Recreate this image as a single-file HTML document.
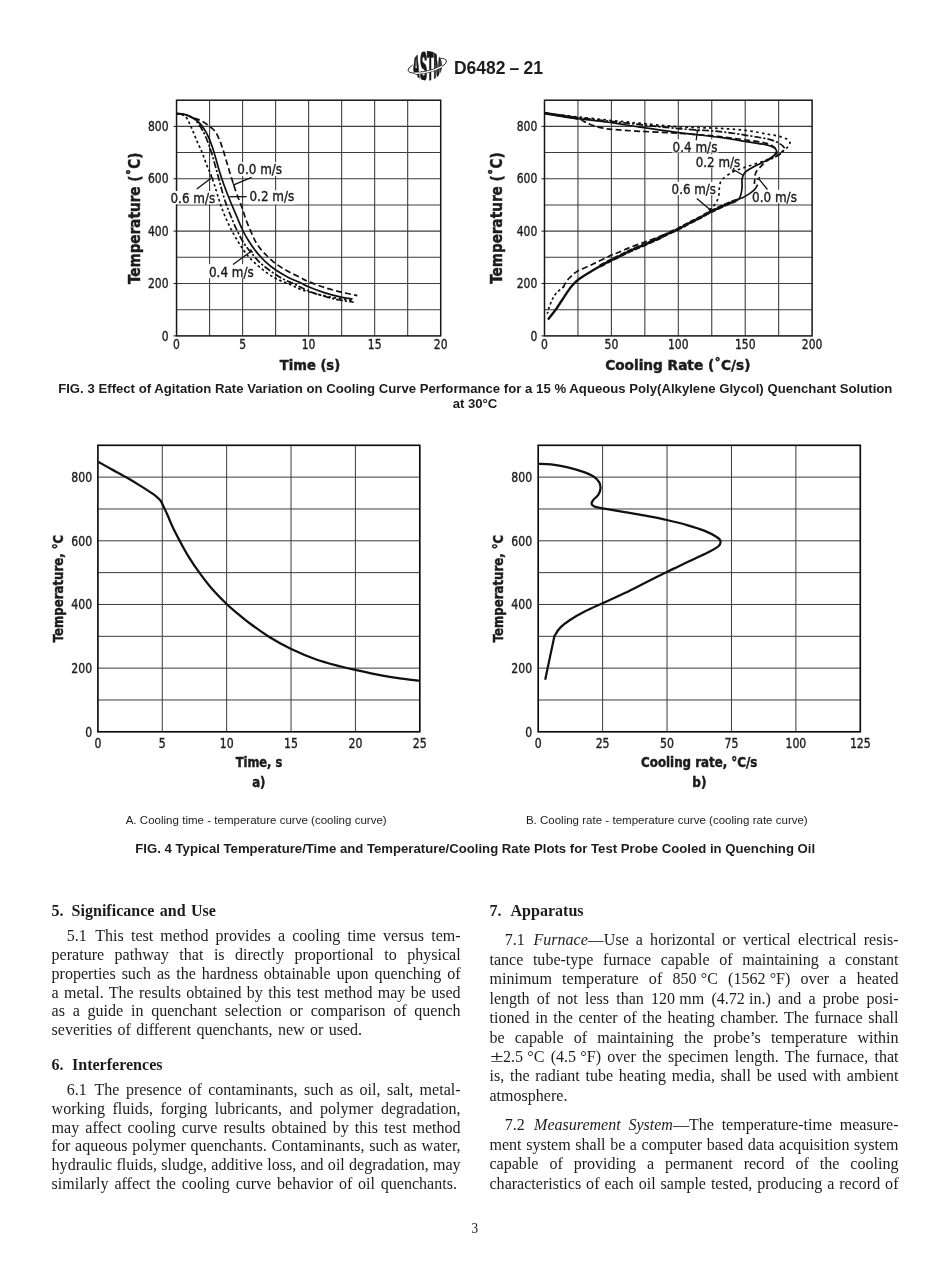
<!DOCTYPE html>
<html lang="en">
<head>
<meta charset="utf-8">
<title>D6482 – 21</title>
<style>
html,body{margin:0;padding:0;background:#fff;font-family:"Liberation Serif",serif}
#page{position:relative;width:950px;height:1272px;overflow:hidden;background:#fff;color:#1c1c1c}
#gfx{position:absolute;left:0;top:0}
.t{position:absolute;white-space:pre;margin:0;padding:0;line-height:1;font-weight:normal;font-style:normal}
.s{font-family:"Liberation Serif",serif;font-size:16.05px}
.h{font-family:"Liberation Serif",serif;font-size:16.05px;font-weight:bold}
.c{font-family:"Liberation Sans",sans-serif;font-size:13.15px;font-weight:bold}
.n{font-family:"Liberation Sans",sans-serif;font-size:11.5px}
.d{font-family:"Liberation Sans",sans-serif;font-size:17.5px;font-weight:bold}
.p{font-family:"Liberation Serif",serif;font-size:15.4px;transform:scaleX(0.86);transform-origin:50% 50%}
.k{margin-right:1.6px}
.w{letter-spacing:1px}
.pm{display:inline-block;width:13.6px;text-align:center;transform:scaleX(1.5)}
svg text{font-family:"DejaVu Sans Condensed","DejaVu Sans",sans-serif;fill:#1c1c1c;stroke:#1c1c1c;stroke-width:0.35px}
svg .b{font-weight:bold;stroke-width:0.45px}
</style>
</head>
<body>
<div id="page">
<svg id="gfx" width="950" height="1272" viewBox="0 0 950 1272">
<g id="logo"><defs><clipPath id="lc"><circle cx="427.3" cy="65.7" r="14.8"/></clipPath></defs>
<ellipse cx="427.3" cy="65.7" rx="19.8" ry="6" fill="none" stroke="#222" stroke-width="0.9" transform="rotate(-14 427.3 65.7)"/>
<circle cx="427.3" cy="65.7" r="14.8" fill="#fff"/>
<g clip-path="url(#lc)">
<text transform="translate(427.3 81) scale(1.06 4.3)" x="0" y="0" text-anchor="middle" font-size="10" class="b" stroke="#161616" stroke-width="0.2" style="font-family:'Liberation Sans',sans-serif;fill:#161616">ASTM</text>
<path d="M407.5,65.7 A19.8,6 0 0 0 447.1,65.7" fill="none" stroke="#222" stroke-width="2.6" transform="rotate(-14 427.3 65.7)"/>
<path d="M407.5,65.7 A19.8,6 0 0 0 447.1,65.7" fill="none" stroke="#fff" stroke-width="1.3" transform="rotate(-14 427.3 65.7)"/>
</g></g>
<g id="fig3a"><path d="M209.57,100.2V335.9M242.59,100.2V335.9M275.61,100.2V335.9M308.62,100.2V335.9M341.64,100.2V335.9M374.66,100.2V335.9M407.68,100.2V335.9M176.55,126.39H440.7M176.55,152.58H440.7M176.55,178.77H440.7M176.55,204.96H440.7M176.55,231.14H440.7M176.55,257.33H440.7M176.55,283.52H440.7M176.55,309.71H440.7" stroke="#3e3e3e" stroke-width="1.08" fill="none"/>
<path d="M173.55,335.9H176.55M173.55,283.52H176.55M173.55,231.14H176.55M173.55,178.77H176.55M173.55,126.39H176.55" stroke="#161616" stroke-width="1" fill="none"/>
<rect x="176.55" y="100.2" width="264.15" height="235.7" stroke="#161616" stroke-width="1.5" fill="none"/>
<path d="M176.5,113.5 C177.87,113.88 182.63,114.37 184.7,115.8 C186.77,117.23 187.58,119.65 188.9,122.1 C190.22,124.55 191.18,127.17 192.6,130.5 C194.02,133.83 195.73,138.23 197.4,142.1 C199.07,145.97 201.03,149.83 202.6,153.7 C204.17,157.57 205.48,161.97 206.8,165.3 C208.12,168.63 209.27,170.55 210.5,173.7 C211.73,176.85 212.97,180.43 214.2,184.2 C215.43,187.97 216.58,192.18 217.9,196.3 C219.22,200.42 220.52,204.68 222.1,208.9 C223.68,213.12 225.47,217.38 227.4,221.6 C229.33,225.82 231.6,230.35 233.7,234.2 C235.8,238.05 237.72,241.18 240,244.7 C242.28,248.22 244.6,251.97 247.4,255.3 C250.2,258.63 253.47,261.72 256.8,264.7 C260.13,267.68 263.88,270.73 267.4,273.2 C270.92,275.67 274.05,277.58 277.9,279.5 C281.75,281.42 286.65,283.03 290.5,284.7 C294.35,286.37 296.92,288.03 301,289.5 C305.08,290.97 310.17,292.25 315,293.5 C319.83,294.75 325,296 330,297 C335,298 341.05,298.92 345,299.5 C348.95,300.08 352.25,300.33 353.7,300.5" stroke="#111" stroke-width="1.7" fill="none" stroke-linejoin="round" stroke-linecap="butt" stroke-dasharray="2.6 2.6"/>
<path d="M176.5,113.5 C177.92,113.68 182.5,113.93 185,114.6 C187.5,115.27 189.62,116.43 191.5,117.5 C193.38,118.57 194.45,118.83 196.3,121 C198.15,123.17 200.67,126.98 202.6,130.5 C204.53,134.02 206.32,138.07 207.9,142.1 C209.48,146.13 210.7,150.13 212.1,154.7 C213.5,159.27 214.98,164.75 216.3,169.5 C217.62,174.25 219.08,179.78 220,183.2 C220.92,186.62 220.92,186.93 221.8,190 C222.68,193.07 223.85,197.38 225.3,201.6 C226.75,205.82 228.58,210.57 230.5,215.3 C232.42,220.03 234.52,225.27 236.8,230 C239.08,234.73 241.73,239.83 244.2,243.7 C246.67,247.57 248.97,250.05 251.6,253.2 C254.23,256.35 256.85,259.63 260,262.6 C263.15,265.57 266.82,268.37 270.5,271 C274.18,273.63 278.07,276.2 282.1,278.4 C286.13,280.6 290.32,282.1 294.7,284.2 C299.08,286.3 303.48,288.98 308.4,291 C313.32,293.02 319.1,294.8 324.2,296.3 C329.3,297.8 334.08,299.03 339,300 C343.92,300.97 351.25,301.75 353.7,302.1" stroke="#111" stroke-width="1.7" fill="none" stroke-linejoin="round" stroke-linecap="butt" stroke-dasharray="7 2 2.2 2"/>
<path d="M176.5,113.5 C178.08,113.75 182.7,114.1 186,115 C189.3,115.9 193.7,117.9 196.3,118.9 C198.9,119.9 199.5,119.85 201.6,121 C203.7,122.15 206.62,124.03 208.9,125.8 C211.18,127.57 213.53,129.23 215.3,131.6 C217.07,133.97 218.28,137.2 219.5,140 C220.72,142.8 221.55,145.25 222.6,148.4 C223.65,151.55 224.65,155.03 225.8,158.9 C226.95,162.77 228.27,167.55 229.5,171.6 C230.73,175.65 231.98,179.43 233.2,183.2 C234.42,186.97 235.32,190.08 236.8,194.2 C238.28,198.32 240.52,203.52 242.1,207.9 C243.68,212.28 244.72,216.28 246.3,220.5 C247.88,224.72 249.85,229.33 251.6,233.2 C253.35,237.07 254.52,240.2 256.8,243.7 C259.08,247.2 262.13,250.87 265.3,254.2 C268.47,257.53 272.12,260.9 275.8,263.7 C279.48,266.5 283.37,268.72 287.4,271 C291.43,273.28 296.5,275.63 300,277.4 C303.5,279.17 304.37,279.93 308.4,281.6 C312.43,283.27 318.77,285.65 324.2,287.4 C329.63,289.15 335.47,290.73 341,292.1 C346.53,293.47 354.67,295.02 357.4,295.6" stroke="#111" stroke-width="1.7" fill="none" stroke-linejoin="round" stroke-linecap="butt" stroke-dasharray="6 3.2"/>
<path d="M176.5,113.5 C177.7,113.62 181.27,113.65 183.7,114.2 C186.13,114.75 188.82,115.67 191.1,116.8 C193.38,117.93 195.3,119.07 197.4,121 C199.5,122.93 201.87,125.77 203.7,128.4 C205.53,131.03 207,133.82 208.4,136.8 C209.8,139.78 210.95,142.97 212.1,146.3 C213.25,149.63 214.07,152.58 215.3,156.8 C216.53,161.02 218.1,167.03 219.5,171.6 C220.9,176.17 222.02,179.55 223.7,184.2 C225.38,188.85 227.58,194.5 229.6,199.5 C231.62,204.5 233.72,209.28 235.8,214.2 C237.88,219.12 240,224.62 242.1,229 C244.2,233.38 246.12,236.82 248.4,240.5 C250.68,244.18 252.98,247.58 255.8,251.1 C258.62,254.62 261.97,258.45 265.3,261.6 C268.63,264.75 271.95,267.37 275.8,270 C279.65,272.63 284.37,275.3 288.4,277.4 C292.43,279.5 296.67,281.03 300,282.6 C303.33,284.17 304.37,285.13 308.4,286.8 C312.43,288.47 319.1,290.97 324.2,292.6 C329.3,294.23 334.27,295.53 339,296.6 C343.73,297.67 350.33,298.6 352.6,299" stroke="#111" stroke-width="1.7" fill="none" stroke-linejoin="round" stroke-linecap="butt"/>
<rect x="236.4" y="162.2" width="46.6" height="13.8" fill="#fff"/>
<rect x="248.6" y="190.4" width="46.6" height="13.95" fill="#fff"/>
<rect x="169.6" y="191" width="46.6" height="13.35" fill="#fff"/>
<rect x="208.1" y="264.2" width="46.6" height="14" fill="#fff"/>
<path d="M251.6,177.4L233.7,184.9M234.47,186.74L232.93,183.06" stroke="#111" stroke-width="1.3" fill="none"/>
<path d="M246.6,196.7L229.2,196.7" stroke="#111" stroke-width="1.3" fill="none"/>
<path d="M196.8,189L212,177.4M210.79,175.81L213.21,178.99" stroke="#111" stroke-width="1.3" fill="none"/>
<path d="M233,264.5L251.5,251M250.32,249.38L252.68,252.62" stroke="#111" stroke-width="1.3" fill="none"/>
<text x="237.3" y="174.2" font-size="13.7" textLength="44.8" lengthAdjust="spacingAndGlyphs">0.0 m/s</text>
<text x="249.5" y="200.5" font-size="13.7" textLength="44.8" lengthAdjust="spacingAndGlyphs">0.2 m/s</text>
<text x="170.5" y="203.2" font-size="13.7" textLength="44.8" lengthAdjust="spacingAndGlyphs">0.6 m/s</text>
<text x="209" y="276.8" font-size="13.7" textLength="44.8" lengthAdjust="spacingAndGlyphs">0.4 m/s</text>
<text x="168.6" y="340.5" font-size="13.7" text-anchor="end" textLength="6.87" lengthAdjust="spacingAndGlyphs">0</text>
<text x="168.6" y="288.12" font-size="13.7" text-anchor="end" textLength="20.61" lengthAdjust="spacingAndGlyphs">200</text>
<text x="168.6" y="235.74" font-size="13.7" text-anchor="end" textLength="20.61" lengthAdjust="spacingAndGlyphs">400</text>
<text x="168.6" y="183.37" font-size="13.7" text-anchor="end" textLength="20.61" lengthAdjust="spacingAndGlyphs">600</text>
<text x="168.6" y="130.99" font-size="13.7" text-anchor="end" textLength="20.61" lengthAdjust="spacingAndGlyphs">800</text>
<text x="176.55" y="349.4" font-size="13.7" text-anchor="middle" textLength="6.87" lengthAdjust="spacingAndGlyphs">0</text>
<text x="242.59" y="349.4" font-size="13.7" text-anchor="middle" textLength="6.87" lengthAdjust="spacingAndGlyphs">5</text>
<text x="308.62" y="349.4" font-size="13.7" text-anchor="middle" textLength="13.74" lengthAdjust="spacingAndGlyphs">10</text>
<text x="374.66" y="349.4" font-size="13.7" text-anchor="middle" textLength="13.74" lengthAdjust="spacingAndGlyphs">15</text>
<text x="440.7" y="349.4" font-size="13.7" text-anchor="middle" textLength="13.74" lengthAdjust="spacingAndGlyphs">20</text>
<text x="310" y="370.2" font-size="14.9" text-anchor="middle" class="b" textLength="60.4" lengthAdjust="spacingAndGlyphs">Time (s)</text>
<text x="139.7" y="218.3" font-size="15.0" text-anchor="middle" class="b" textLength="131.4" lengthAdjust="spacingAndGlyphs" transform="rotate(-90 139.7 218.3)">Temperature (˚C)</text></g>
<g id="fig3b"><path d="M577.95,100.2V335.9M611.4,100.2V335.9M644.85,100.2V335.9M678.3,100.2V335.9M711.75,100.2V335.9M745.2,100.2V335.9M778.65,100.2V335.9M544.5,126.39H812.1M544.5,152.58H812.1M544.5,178.77H812.1M544.5,204.96H812.1M544.5,231.14H812.1M544.5,257.33H812.1M544.5,283.52H812.1M544.5,309.71H812.1" stroke="#3e3e3e" stroke-width="1.08" fill="none"/>
<path d="M541.5,335.9H544.5M541.5,283.52H544.5M541.5,231.14H544.5M541.5,178.77H544.5M541.5,126.39H544.5" stroke="#161616" stroke-width="1" fill="none"/>
<rect x="544.5" y="100.2" width="267.6" height="235.7" stroke="#161616" stroke-width="1.5" fill="none"/>
<rect x="671.7" y="139.3" width="46.6" height="13.2" fill="#fff"/>
<rect x="694.9" y="154.5" width="46.6" height="13.2" fill="#fff"/>
<rect x="670.7" y="181.9" width="46.6" height="13.2" fill="#fff"/>
<rect x="751.2" y="189.8" width="46.6" height="13.2" fill="#fff"/>
<path d="M544.5,113.2 C549.88,113.8 565.62,115.58 576.8,116.8 C587.98,118.02 601.07,119.43 611.6,120.5 C622.13,121.57 628.87,122.15 640,123.2 C651.13,124.25 665.07,125.93 678.4,126.8 C691.73,127.67 708.68,127.78 720,128.4 C731.32,129.02 738.4,129.53 746.3,130.5 C754.2,131.47 761.95,133.23 767.4,134.2 C772.85,135.17 775.67,135.42 779,136.3 C782.33,137.18 785.57,138.35 787.4,139.5 C789.23,140.65 790,141.88 790,143.2 C790,144.52 788.72,146 787.4,147.4 C786.08,148.8 784.22,150.12 782.1,151.6 C779.98,153.08 778.03,154.63 774.7,156.3 C771.37,157.97 767.35,159.67 762.1,161.6 C756.85,163.53 748.12,166.15 743.2,167.9 C738.28,169.65 736.12,170.17 732.6,172.1 C729.08,174.03 724.28,177.05 722.1,179.5 C719.92,181.95 720.02,184.35 719.5,186.8 C718.98,189.25 719.45,191.73 719,194.2 C718.55,196.67 717.68,199.67 716.8,201.6 C715.92,203.53 715.17,204.23 713.7,205.8 C712.23,207.37 708.95,210.13 708,211" stroke="#111" stroke-width="1.7" fill="none" stroke-linejoin="round" stroke-linecap="butt" stroke-dasharray="2.6 3.3"/>
<path d="M564.2,286.3 C562.8,287.53 557.9,291.25 555.8,293.7 C553.7,296.15 552.83,298.37 551.6,301 C550.37,303.63 549.1,307.38 548.4,309.5 C547.7,311.62 547.57,313 547.4,313.7" stroke="#111" stroke-width="1.7" fill="none" stroke-linejoin="round" stroke-linecap="butt" stroke-dasharray="2.6 2.6"/>
<path d="M544.5,113.2 C549.88,113.9 565.62,116.03 576.8,117.4 C587.98,118.77 601.07,120.2 611.6,121.4 C622.13,122.6 628.87,123.4 640,124.6 C651.13,125.8 665.07,127.43 678.4,128.6 C691.73,129.77 708.68,130.48 720,131.6 C731.32,132.72 738.4,134.08 746.3,135.3 C754.2,136.52 762.32,137.77 767.4,138.9 C772.48,140.03 774.17,140.87 776.8,142.1 C779.43,143.33 781.97,145.07 783.2,146.3 C784.43,147.53 784.82,148.13 784.2,149.5 C783.58,150.87 781.87,152.83 779.5,154.5 C777.13,156.17 771.58,158.67 770,159.5" stroke="#111" stroke-width="1.7" fill="none" stroke-linejoin="round" stroke-linecap="butt" stroke-dasharray="7 2 2.2 2"/>
<path d="M544.5,113.2 C549.88,114.1 570.18,117.2 576.8,118.6 C583.42,120 581.57,120.48 584.2,121.6 C586.83,122.72 589.43,124.2 592.6,125.3 C595.77,126.4 599.68,127.5 603.2,128.2 C606.72,128.9 607.57,128.98 613.7,129.5 C619.83,130.02 630.28,130.75 640,131.3 C649.72,131.85 662,132.22 672,132.8 C682,133.38 692,134.17 700,134.8 C708,135.43 712.28,135.73 720,136.6 C727.72,137.47 739.28,139.05 746.3,140 C753.32,140.95 757.98,141.47 762.1,142.3 C766.22,143.13 768.68,143.88 771,145 C773.32,146.12 775,147.75 776,149 C777,150.25 777.67,151.08 777,152.5 C776.33,153.92 773.95,155.9 772,157.5 C770.05,159.1 767.3,160.45 765.3,162.1 C763.3,163.75 761.58,165.65 760,167.4 C758.42,169.15 756.68,170.5 755.8,172.6 C754.92,174.7 754.93,178.1 754.7,180 C754.47,181.9 754.45,183.33 754.4,184" stroke="#111" stroke-width="1.7" fill="none" stroke-linejoin="round" stroke-linecap="butt" stroke-dasharray="6 3.2"/>
<path d="M664,234.6 C662.9,235.05 660.62,236.05 657.4,237.3 C654.18,238.55 649.1,240.48 644.7,242.1 C640.3,243.72 635.03,245.43 631,247 C626.97,248.57 624,250.03 620.5,251.5 C617,252.97 614.65,253.68 610,255.8 C605.35,257.92 598.13,261.57 592.6,264.2 C587.07,266.83 580.83,269.13 576.8,271.6 C572.77,274.07 570.43,276.83 568.4,279 C566.37,281.17 565.62,282.93 564.6,284.6 C563.58,286.27 562.68,288.27 562.3,289" stroke="#111" stroke-width="1.7" fill="none" stroke-linejoin="round" stroke-linecap="butt" stroke-dasharray="6 3.2"/>
<path d="M757.6,184.6 C757.27,185.2 756.45,187.07 755.6,188.2 C754.75,189.33 753.7,190.37 752.5,191.4 C751.3,192.43 749.9,193.43 748.4,194.4 C746.9,195.37 745.07,196.43 743.5,197.2 C741.93,197.97 739.75,198.7 739,199" stroke="#111" stroke-width="1.7" fill="none" stroke-linejoin="round" stroke-linecap="butt"/>
<path d="M544.5,113.2 C549.88,114.07 565.62,116.83 576.8,118.4 C587.98,119.97 601.07,121.13 611.6,122.6 C622.13,124.07 628.87,125.53 640,127.2 C651.13,128.87 665.07,130.9 678.4,132.6 C691.73,134.3 708.68,135.9 720,137.4 C731.32,138.9 738.75,140.4 746.3,141.6 C753.85,142.8 760.82,143.67 765.3,144.6 C769.78,145.53 771.35,146.25 773.2,147.2 C775.05,148.15 776.07,149.17 776.4,150.3 C776.73,151.43 776.18,152.72 775.2,154 C774.22,155.28 772.33,156.73 770.5,158 C768.67,159.27 767,160.13 764.2,161.6 C761.4,163.07 756.85,165.05 753.7,166.8 C750.55,168.55 747.23,170.17 745.3,172.1 C743.37,174.03 742.63,175.95 742.1,178.4 C741.57,180.85 742.28,184.17 742.1,186.8 C741.92,189.43 741.52,192.17 741,194.2 C740.48,196.23 739.33,198.2 739,199" stroke="#111" stroke-width="1.7" fill="none" stroke-linejoin="round" stroke-linecap="butt"/>
<path d="M547.9,319.5 C549.22,317.83 553.08,313.28 555.8,309.5 C558.52,305.72 561.57,300.67 564.2,296.8 C566.83,292.93 569.13,289.27 571.6,286.3 C574.07,283.33 575.5,281.63 579,279 C582.5,276.37 587.43,273.53 592.6,270.5 C597.77,267.47 605.35,263.28 610,260.8 C614.65,258.32 617,257.32 620.5,255.6 C624,253.88 626.97,252.32 631,250.5 C635.03,248.68 640.3,246.63 644.7,244.7 C649.1,242.77 653.53,240.73 657.4,238.9 C661.27,237.07 664.4,235.37 667.9,233.7 C671.4,232.03 674.88,230.65 678.4,228.9 C681.92,227.15 685.48,225.03 689,223.2 C692.52,221.37 696,219.75 699.5,217.9 C703,216.05 705.88,214.18 710,212.1 C714.12,210.02 719.37,207.58 724.2,205.4 C729.03,203.22 736.53,200.07 739,199" stroke="#111" stroke-width="2.4" fill="none" stroke-linejoin="round" stroke-linecap="butt"/>
<path d="M544.5,113.2 C547.08,113.62 554.42,114.82 560,115.7 C565.58,116.58 575,118.03 578,118.5" stroke="#111" stroke-width="2.7" fill="none" stroke-linejoin="round" stroke-linecap="butt"/>
<path d="M600,266 C601.67,265.13 606.58,262.53 610,260.8 C613.42,259.07 617,257.32 620.5,255.6 C624,253.88 626.97,252.32 631,250.5 C635.03,248.68 640.3,246.63 644.7,244.7 C649.1,242.77 653.53,240.73 657.4,238.9 C661.27,237.07 664.4,235.37 667.9,233.7 C671.4,232.03 674.88,230.65 678.4,228.9 C681.92,227.15 685.48,225.03 689,223.2 C692.52,221.37 696,219.75 699.5,217.9 C703,216.05 705.88,214.18 710,212.1 C714.12,210.02 719.87,207.35 724.2,205.4 C728.53,203.45 734.03,201.23 736,200.4" stroke="#111" stroke-width="3.3" fill="none" stroke-linejoin="round" stroke-linecap="butt" stroke-dasharray="5.5 2.2"/>
<path d="M696.2,140.4L697.4,130.5M695.22,130.24L699.58,130.76" stroke="#111" stroke-width="1.3" fill="none"/>
<path d="M733.2,169.5L743.2,175.3M734.2,167.77L732.2,171.23" stroke="#111" stroke-width="1.3" fill="none"/>
<path d="M696.8,198.4L710.5,210M711.79,208.47L709.21,211.53" stroke="#111" stroke-width="1.3" fill="none"/>
<path d="M767.4,189.5L758.4,178.4M756.85,179.66L759.95,177.14" stroke="#111" stroke-width="1.3" fill="none"/>
<text x="672.6" y="151.6" font-size="13.7" textLength="44.8" lengthAdjust="spacingAndGlyphs">0.4 m/s</text>
<text x="695.8" y="166.8" font-size="13.7" textLength="44.4" lengthAdjust="spacingAndGlyphs">0.2 m/s</text>
<text x="671.6" y="194.2" font-size="13.7" textLength="44.4" lengthAdjust="spacingAndGlyphs">0.6 m/s</text>
<text x="752.1" y="202.1" font-size="13.7" textLength="44.8" lengthAdjust="spacingAndGlyphs">0.0 m/s</text>
<text x="537.3" y="340.5" font-size="13.7" text-anchor="end" textLength="6.87" lengthAdjust="spacingAndGlyphs">0</text>
<text x="537.3" y="288.12" font-size="13.7" text-anchor="end" textLength="20.61" lengthAdjust="spacingAndGlyphs">200</text>
<text x="537.3" y="235.74" font-size="13.7" text-anchor="end" textLength="20.61" lengthAdjust="spacingAndGlyphs">400</text>
<text x="537.3" y="183.37" font-size="13.7" text-anchor="end" textLength="20.61" lengthAdjust="spacingAndGlyphs">600</text>
<text x="537.3" y="130.99" font-size="13.7" text-anchor="end" textLength="20.61" lengthAdjust="spacingAndGlyphs">800</text>
<text x="544.5" y="349.4" font-size="13.7" text-anchor="middle" textLength="6.87" lengthAdjust="spacingAndGlyphs">0</text>
<text x="611.4" y="349.4" font-size="13.7" text-anchor="middle" textLength="13.74" lengthAdjust="spacingAndGlyphs">50</text>
<text x="678.3" y="349.4" font-size="13.7" text-anchor="middle" textLength="20.61" lengthAdjust="spacingAndGlyphs">100</text>
<text x="745.2" y="349.4" font-size="13.7" text-anchor="middle" textLength="20.61" lengthAdjust="spacingAndGlyphs">150</text>
<text x="812.1" y="349.4" font-size="13.7" text-anchor="middle" textLength="20.61" lengthAdjust="spacingAndGlyphs">200</text>
<text x="677.8" y="370.2" font-size="14.9" text-anchor="middle" class="b" textLength="145.2" lengthAdjust="spacingAndGlyphs">Cooling Rate (˚C/s)</text>
<text x="502.3" y="218" font-size="15.0" text-anchor="middle" class="b" textLength="131.4" lengthAdjust="spacingAndGlyphs" transform="rotate(-90 502.3 218)">Temperature (˚C)</text></g>
<g id="fig4a"><path d="M162.28,445.3V731.8M226.66,445.3V731.8M291.04,445.3V731.8M355.42,445.3V731.8M97.9,477.13H419.8M97.9,508.97H419.8M97.9,540.8H419.8M97.9,572.63H419.8M97.9,604.47H419.8M97.9,636.3H419.8M97.9,668.13H419.8M97.9,699.97H419.8" stroke="#363636" stroke-width="0.98" fill="none"/>
<rect x="97.9" y="445.3" width="321.9" height="286.5" stroke="#0a0a0a" stroke-width="1.65" fill="none"/>
<path d="M98.1,461.8 C100.33,463.03 106.88,466.67 111.5,469.2 C116.12,471.73 121.03,474.27 125.8,477 C130.57,479.73 135.63,482.82 140.1,485.6 C144.57,488.38 149.62,491.63 152.6,493.7 C155.58,495.77 156.62,496.75 158,498 C159.38,499.25 159.93,499.68 160.9,501.2 C161.87,502.72 162.68,504.77 163.8,507.1 C164.92,509.43 166.07,511.77 167.6,515.2 C169.13,518.63 170.95,523.38 173,527.7 C175.05,532.02 177.33,536.33 179.9,541.1 C182.47,545.87 185.18,551.08 188.4,556.3 C191.62,561.52 195.32,567.03 199.2,572.4 C203.08,577.77 207.08,583.18 211.7,588.5 C216.32,593.82 223.02,600.5 226.9,604.3 C230.78,608.1 231.15,608.1 235,611.3 C238.85,614.5 244.35,619.27 250,623.5 C255.65,627.73 262.12,632.5 268.9,636.7 C275.68,640.9 282.8,644.9 290.7,648.7 C298.6,652.5 307.93,656.53 316.3,659.5 C324.67,662.47 334.42,664.77 340.9,666.5 C347.38,668.23 348.25,668.38 355.2,669.9 C362.15,671.42 374.87,674.15 382.6,675.6 C390.33,677.05 395.48,677.77 401.6,678.6 C407.72,679.43 416.35,680.27 419.3,680.6" stroke="#111" stroke-width="2.25" fill="none" stroke-linejoin="round" stroke-linecap="butt"/>
<text x="92.2" y="736.5" font-size="13.2" text-anchor="end" textLength="6.95" lengthAdjust="spacingAndGlyphs">0</text>
<text x="92.2" y="672.83" font-size="13.2" text-anchor="end" textLength="20.85" lengthAdjust="spacingAndGlyphs">200</text>
<text x="92.2" y="609.17" font-size="13.2" text-anchor="end" textLength="20.85" lengthAdjust="spacingAndGlyphs">400</text>
<text x="92.2" y="545.5" font-size="13.2" text-anchor="end" textLength="20.85" lengthAdjust="spacingAndGlyphs">600</text>
<text x="92.2" y="481.83" font-size="13.2" text-anchor="end" textLength="20.85" lengthAdjust="spacingAndGlyphs">800</text>
<text x="97.9" y="747.9" font-size="13.2" text-anchor="middle" textLength="6.95" lengthAdjust="spacingAndGlyphs">0</text>
<text x="162.28" y="747.9" font-size="13.2" text-anchor="middle" textLength="6.95" lengthAdjust="spacingAndGlyphs">5</text>
<text x="226.66" y="747.9" font-size="13.2" text-anchor="middle" textLength="13.9" lengthAdjust="spacingAndGlyphs">10</text>
<text x="291.04" y="747.9" font-size="13.2" text-anchor="middle" textLength="13.9" lengthAdjust="spacingAndGlyphs">15</text>
<text x="355.42" y="747.9" font-size="13.2" text-anchor="middle" textLength="13.9" lengthAdjust="spacingAndGlyphs">20</text>
<text x="419.8" y="747.9" font-size="13.2" text-anchor="middle" textLength="13.9" lengthAdjust="spacingAndGlyphs">25</text>
<text x="259" y="766.6" font-size="13.3" text-anchor="middle" class="b" textLength="46.5" lengthAdjust="spacingAndGlyphs" stroke-width="0.45">Time, s</text>
<text x="258.8" y="786.6" font-size="13.3" text-anchor="middle" class="b" textLength="13.3" lengthAdjust="spacingAndGlyphs" stroke-width="0.45">a)</text>
<text x="63.2" y="588.5" font-size="13.3" text-anchor="middle" class="b" textLength="107.4" lengthAdjust="spacingAndGlyphs" transform="rotate(-90 63.2 588.5)" stroke-width="0.45">Temperature, °C</text></g>
<g id="fig4b"><path d="M602.62,445.3V731.8M667.04,445.3V731.8M731.46,445.3V731.8M795.88,445.3V731.8M538.2,477.13H860.3M538.2,508.97H860.3M538.2,540.8H860.3M538.2,572.63H860.3M538.2,604.47H860.3M538.2,636.3H860.3M538.2,668.13H860.3M538.2,699.97H860.3" stroke="#363636" stroke-width="0.98" fill="none"/>
<rect x="538.2" y="445.3" width="322.1" height="286.5" stroke="#0a0a0a" stroke-width="1.65" fill="none"/>
<path d="M538.4,463.8 C540.52,463.9 546.18,463.8 551.1,464.4 C556.02,465 562.65,466.2 567.9,467.4 C573.15,468.6 578.38,470.13 582.6,471.6 C586.82,473.07 590.45,474.45 593.2,476.2 C595.95,477.95 597.88,480.07 599.1,482.1 C600.32,484.13 600.62,486.3 600.5,488.4 C600.38,490.5 599.62,492.77 598.4,494.7 C597.18,496.63 594.32,498.42 593.2,500 C592.08,501.58 591.35,503.05 591.7,504.2 C592.05,505.35 592.95,506.13 595.3,506.9 C597.65,507.67 600.9,507.92 605.8,508.8 C610.7,509.68 617.68,510.97 624.7,512.2 C631.72,513.43 640.88,514.9 647.9,516.2 C654.92,517.5 660.13,518.48 666.8,520 C673.47,521.52 681.58,523.48 687.9,525.3 C694.22,527.12 699.97,528.98 704.7,530.9 C709.43,532.82 713.67,535.1 716.3,536.8 C718.93,538.5 720.15,539.52 720.5,541.1 C720.85,542.68 720.33,544.48 718.4,546.3 C716.47,548.12 712.93,549.9 708.9,552 C704.87,554.1 699.45,556.42 694.2,558.9 C688.95,561.38 681.97,564.72 677.4,566.9 C672.83,569.08 672.07,569.4 666.8,572 C661.53,574.6 652.82,578.98 645.8,582.5 C638.78,586.02 631.9,589.65 624.7,593.1 C617.5,596.55 609.27,600.12 602.6,603.2 C595.93,606.28 590.13,608.8 584.7,611.6 C579.27,614.4 574.03,617.37 570,620 C565.97,622.63 562.95,624.95 560.5,627.4 C558.05,629.85 556.45,632.6 555.3,634.7 C554.15,636.8 555.28,632.48 553.6,640 C551.92,647.52 546.6,673.17 545.2,679.8" stroke="#111" stroke-width="2.25" fill="none" stroke-linejoin="round" stroke-linecap="butt"/>
<text x="532.2" y="736.5" font-size="13.2" text-anchor="end" textLength="6.95" lengthAdjust="spacingAndGlyphs">0</text>
<text x="532.2" y="672.83" font-size="13.2" text-anchor="end" textLength="20.85" lengthAdjust="spacingAndGlyphs">200</text>
<text x="532.2" y="609.17" font-size="13.2" text-anchor="end" textLength="20.85" lengthAdjust="spacingAndGlyphs">400</text>
<text x="532.2" y="545.5" font-size="13.2" text-anchor="end" textLength="20.85" lengthAdjust="spacingAndGlyphs">600</text>
<text x="532.2" y="481.83" font-size="13.2" text-anchor="end" textLength="20.85" lengthAdjust="spacingAndGlyphs">800</text>
<text x="538.2" y="747.9" font-size="13.2" text-anchor="middle" textLength="6.95" lengthAdjust="spacingAndGlyphs">0</text>
<text x="602.62" y="747.9" font-size="13.2" text-anchor="middle" textLength="13.9" lengthAdjust="spacingAndGlyphs">25</text>
<text x="667.04" y="747.9" font-size="13.2" text-anchor="middle" textLength="13.9" lengthAdjust="spacingAndGlyphs">50</text>
<text x="731.46" y="747.9" font-size="13.2" text-anchor="middle" textLength="13.9" lengthAdjust="spacingAndGlyphs">75</text>
<text x="795.88" y="747.9" font-size="13.2" text-anchor="middle" textLength="20.85" lengthAdjust="spacingAndGlyphs">100</text>
<text x="860.3" y="747.9" font-size="13.2" text-anchor="middle" textLength="20.85" lengthAdjust="spacingAndGlyphs">125</text>
<text x="699.2" y="766.6" font-size="13.3" text-anchor="middle" class="b" textLength="116.3" lengthAdjust="spacingAndGlyphs" stroke-width="0.45">Cooling rate, °C/s</text>
<text x="699.4" y="786.6" font-size="13.3" text-anchor="middle" class="b" textLength="14.1" lengthAdjust="spacingAndGlyphs" stroke-width="0.45">b)</text>
<text x="503.2" y="588.5" font-size="13.3" text-anchor="middle" class="b" textLength="107.4" lengthAdjust="spacingAndGlyphs" transform="rotate(-90 503.2 588.5)" stroke-width="0.45">Temperature, °C</text></g>
</svg>
<h1 class="t d" style="left:453.9px;top:60px;word-spacing:-0.75px">D6482 – 21</h1>
<p class="t c" style="left:58.2px;top:382px;word-spacing:0.07px">FIG. 3 Effect of Agitation Rate Variation on Cooling Curve Performance for a 15 % Aqueous Poly(Alkylene Glycol) Quenchant Solution</p>
<p class="t c" style="left:452.65px;top:397px">at 30°C</p>
<p class="t n" style="left:125.7px;top:815px;word-spacing:0.12px">A. Cooling time - temperature curve (cooling curve)</p>
<p class="t n" style="left:525.9px;top:815px;word-spacing:0.07px">B. Cooling rate - temperature curve (cooling rate curve)</p>
<p class="t c" style="left:135.3px;top:842px;word-spacing:0.04px">FIG. 4 Typical Temperature/Time and Temperature/Cooling Rate Plots for Test Probe Cooled in Quenching Oil</p>
<h2 class="t h" style="left:51.6px;top:903px">5.</h2>
<h2 class="t h" style="left:71.6px;top:903px;word-spacing:1.35px">Significance and Use</h2>
<p class="t s" style="left:66.8px;top:928px;word-spacing:3.14px"><span class="k">5.1</span> This test method provides a cooling time versus tem-</p>
<p class="t s" style="left:51.6px;top:947px;word-spacing:6.47px">perature pathway that is directly proportional to physical</p>
<p class="t s" style="left:51.6px;top:966px;word-spacing:1.93px">properties such as the hardness obtainable upon quenching of</p>
<p class="t s" style="left:51.6px;top:985px;word-spacing:1.35px">a metal. The results obtained by this test method may be used</p>
<p class="t s" style="left:51.6px;top:1003px;word-spacing:3.75px">as a guide in quenchant selection or comparison of quench</p>
<p class="t s" style="left:51.6px;top:1022px;word-spacing:1.35px">severities of different quenchants, new or used.</p>
<h2 class="t h" style="left:51.6px;top:1057px">6.</h2>
<h2 class="t h" style="left:72px;top:1057px">Interferences</h2>
<p class="t s" style="left:66.8px;top:1082px;word-spacing:2.4px"><span class="k">6.1</span> The presence of contaminants, such as oil, salt, metal-</p>
<p class="t s" style="left:51.6px;top:1101px;word-spacing:3.43px">working fluids, forging lubricants, and polymer degradation,</p>
<p class="t s" style="left:51.6px;top:1120px;word-spacing:2.09px">may affect cooling curve results obtained by this test method</p>
<p class="t s" style="left:51.6px;top:1138px;word-spacing:0.77px">for aqueous polymer quenchants. Contaminants, such as water,</p>
<p class="t s" style="left:51.6px;top:1157px;word-spacing:0.26px">hydraulic fluids, sludge, additive loss, and oil degradation, may</p>
<p class="t s" style="left:51.6px;top:1176px;word-spacing:1.79px">similarly affect the cooling curve behavior of oil quenchants.</p>
<h2 class="t h" style="left:489.5px;top:903px">7.</h2>
<h2 class="t h" style="left:510.5px;top:903px">Apparatus</h2>
<p class="t s" style="left:504.7px;top:932px;word-spacing:3.12px"><span class="k">7.1</span> <i>Furnace</i>—Use a horizontal or vertical electrical resis-</p>
<p class="t s" style="left:489.5px;top:952px;word-spacing:5.59px">tance tube-type furnace capable of maintaining a constant</p>
<p class="t s" style="left:489.5px;top:971px;word-spacing:6.23px">minimum temperature of 850<span class="w">&#8201;</span>°C (1562<span class="w">&#8201;</span>°F) over a heated</p>
<p class="t s" style="left:489.5px;top:991px;word-spacing:3.19px">length of not less than 120<span class="w">&#8201;</span>mm (4.72<span class="w">&#8201;</span>in.) and a probe posi-</p>
<p class="t s" style="left:489.5px;top:1010px;word-spacing:1.62px">tioned in the center of the heating chamber. The furnace shall</p>
<p class="t s" style="left:489.5px;top:1030px;word-spacing:6.09px">be capable of maintaining the probe’s temperature within</p>
<p class="t s" style="left:489.5px;top:1049px;word-spacing:2.28px"><span class="pm">±</span>2.5<span class="w">&#8201;</span>°C (4.5<span class="w">&#8201;</span>°F) over the specimen length. The furnace, that</p>
<p class="t s" style="left:489.5px;top:1068px;word-spacing:1.72px">is, the radiant tube heating media, shall be used with ambient</p>
<p class="t s" style="left:489.5px;top:1088px;word-spacing:1.35px">atmosphere.</p>
<p class="t s" style="left:504.7px;top:1117px;word-spacing:3.71px"><span class="k">7.2</span> <i>Measurement System</i>—The temperature-time measure-</p>
<p class="t s" style="left:489.5px;top:1137px;word-spacing:0.58px">ment system shall be a computer based data acquisition system</p>
<p class="t s" style="left:489.5px;top:1156px;word-spacing:6.94px">capable of providing a permanent record of the cooling</p>
<p class="t s" style="left:489.5px;top:1176px;word-spacing:0.93px">characteristics of each oil sample tested, producing a record of</p>
<p class="t p" style="left:471.15px;top:1220px">3</p>
</div>
</body>
</html>
